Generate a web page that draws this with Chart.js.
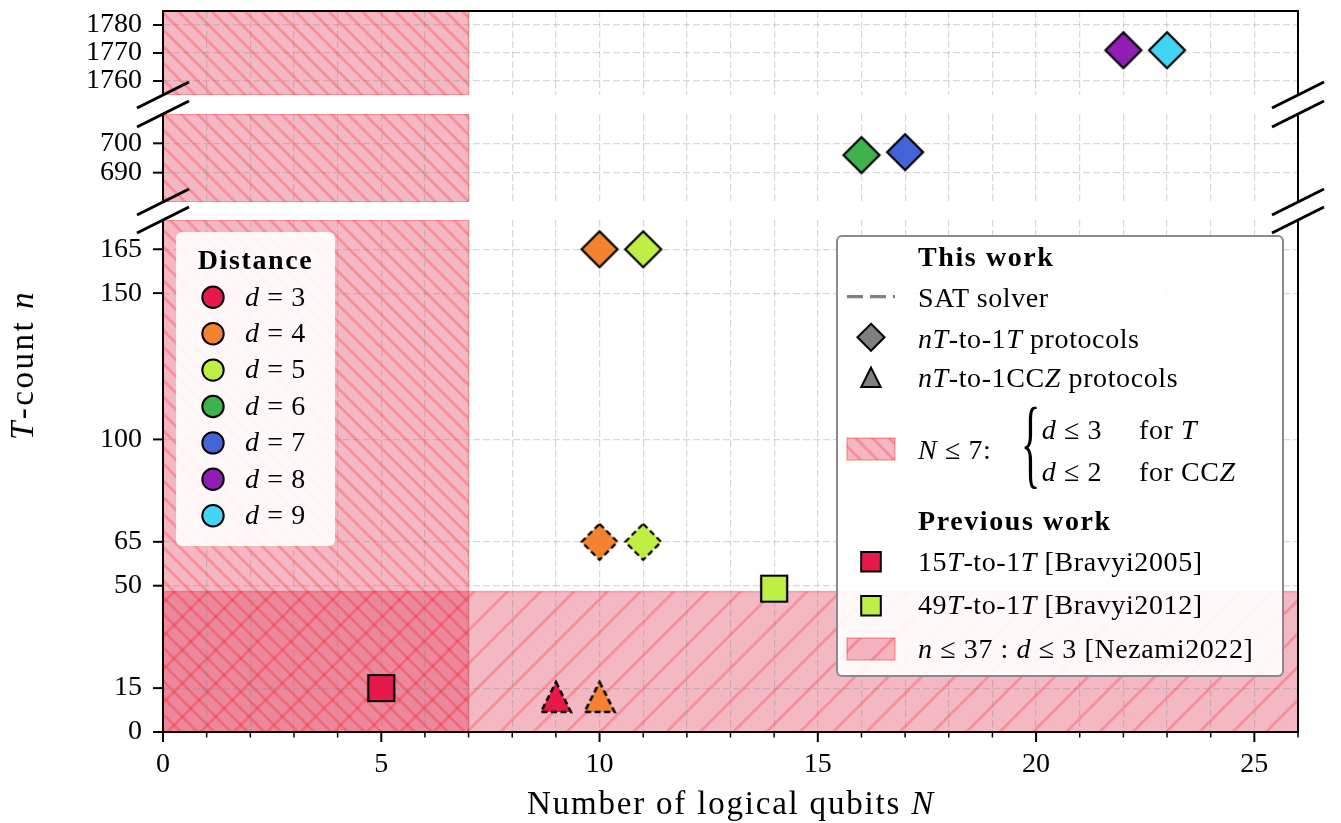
<!DOCTYPE html>
<html>
<head>
<meta charset="utf-8">
<script src="https://cdn.jsdelivr.net/npm/chart.js@4.4.1/dist/chart.umd.min.js"></script>
<style>
  html, body { margin: 0; padding: 0; background: #fff; }
  #wrap { position: relative; width: 1341px; height: 823px; overflow: hidden; font-family: 'Liberation Serif', serif; color: #000; }
  #wrap canvas { position: absolute; left: 0; top: 0; }
  .box { position: absolute; background: rgba(255,255,255,0.9); border-radius: 6px; }
  .t { position: absolute; font-size: 28px; line-height: 34px; white-space: nowrap; letter-spacing: 0.6px; }
  .b { font-weight: bold; letter-spacing: 1.6px; }
  .lab { position: absolute; font-size: 33px; line-height: 40px; white-space: nowrap; letter-spacing: 1.8px; }
  .brace { position: absolute; font-size: 100px; line-height: 100px; transform: scaleX(0.4); transform-origin: left top; }
</style>
</head>
<body>
<div id="wrap">
  <canvas id="cTop" width="1341" height="823"></canvas>
  <canvas id="cMid" width="1341" height="823"></canvas>
  <canvas id="cBot" width="1341" height="823"></canvas>

  <div class="box" style="left:176px;top:232px;width:159px;height:314px;"></div>
  <div class="box" style="left:836px;top:235px;width:444px;height:438px;border:2px solid #8a8a8a;"></div>
  <canvas id="cLeg" width="1341" height="823"></canvas>

  <div class="t b" style="left:176px;top:242.9px;width:159px;text-align:center;">Distance</div>
  <div id="distRows"></div>

  <div class="t b" style="left:918px;top:240.3px;">This work</div>
  <div class="t" style="left:918px;top:280.9px;">SAT solver</div>
  <div class="t" style="left:918px;top:321.9px;"><i>nT</i>-to-1<i>T</i> protocols</div>
  <div class="t" style="left:918px;top:360.9px;"><i>nT</i>-to-1CC<i>Z</i> protocols</div>
  <div class="t" style="left:918px;top:432.9px;"><i>N</i> ≤ 7:</div>
  <div class="brace" style="left:1021px;top:393px;">{</div>
  <div class="t" style="left:1041.7px;top:412.9px;"><i>d</i> ≤ 3</div>
  <div class="t" style="left:1139px;top:412.9px;">for <i>T</i></div>
  <div class="t" style="left:1041.7px;top:455.3px;"><i>d</i> ≤ 2</div>
  <div class="t" style="left:1139px;top:455.3px;">for CC<i>Z</i></div>
  <div class="t b" style="left:918px;top:503.6px;">Previous work</div>
  <div class="t" style="left:918px;top:545.3px;">15<i>T</i>-to-1<i>T</i> [Bravyi2005]</div>
  <div class="t" style="left:918px;top:587.6px;">49<i>T</i>-to-1<i>T</i> [Bravyi2012]</div>
  <div class="t" style="left:918px;top:631.9px;"><i>n</i> ≤ 37 : <i>d</i> ≤ 3 [Nezami2022]</div>

  <div class="lab" style="left:731px;top:782.8px;transform:translateX(-50%);">Number of logical qubits <i>N</i></div>
  <div class="lab" style="left:21.8px;top:365px;transform:translate(-50%,-50%) rotate(-90deg);letter-spacing:2.5px;"><i>T</i>-count <i>n</i></div>
</div>

<script>
// Distance colours
const distances = [3, 4, 5, 6, 7, 8, 9];
const distColors = ["#e6194B", "#f58231", "#bfef45", "#3cb44b", "#4363d8", "#911eb4", "#42d4f4"];

// This work: nT-to-1T protocols
const tProtoQubits = [10, 11, 16, 17, 22, 23];
const tProtoCount = [165, 165, 696, 697, 1771, 1771];
const tProtoDist = [4, 5, 6, 7, 8, 9];

// This work: SAT solver results
const satTQubits = [10, 11];
const satTCount = [65, 65];
const satTDist = [4, 5];
const satCczQubits = [9, 10];
const satCczCount = [12, 12];
const satCczDist = [3, 4];

// Previous work
const prevQubits = [5, 14];
const prevCount = [15, 49];
const prevDist = [3, 5];

// Shaded regions
const smallNMax = 7;         // N <= 7
const nezamiCountMax = 48;   // n <= 37 region as drawn

// Broken y axis panels (top, middle, bottom)
const panelRanges = [[1755, 1785], [680, 710], [0, 175]];
const panelTicks = [[1760, 1770, 1780], [690, 700], [0, 15, 50, 65, 100, 150, 165]];
const xRange = [0, 26];
const xTickValues = [0, 1, 2, 3, 4, 5, 6, 7, 8, 9, 10, 11, 12, 13, 14, 15, 16, 17, 18, 19, 20, 21, 22, 23, 24, 25, 26];

// layout
const W = 1341, H = 823;
const plotLeft = 163, plotRight = 1298;
const panelBoxes = [{ top: 7, bottom: 95 }, { top: 114, bottom: 202 }, { top: 220, bottom: 732 }];
const tickFont = { family: "'Liberation Serif'", size: 28 };
const fillColor = "rgba(220, 20, 60, 0.3)";
const hatchColor = "rgba(255, 0, 0, 0.22)";
const edgeColor = "rgba(255, 0, 0, 0.3)";

function colorOf(d) {
    return distColors[distances.indexOf(d)];
}

function drawMarker(ctx, shape, cx, cy, h, fill, dashed, lw) {
    ctx.save();
    ctx.beginPath();
    if (shape === "D") {
        ctx.moveTo(cx, cy - h);
        ctx.lineTo(cx + h, cy);
        ctx.lineTo(cx, cy + h);
        ctx.lineTo(cx - h, cy);
        ctx.closePath();
    } else if (shape === "s") {
        ctx.rect(cx - h, cy - h, 2 * h, 2 * h);
    } else if (shape === "^") {
        ctx.moveTo(cx, cy - h);
        ctx.lineTo(cx + h, cy + h);
        ctx.lineTo(cx - h, cy + h);
        ctx.closePath();
    } else {
        ctx.arc(cx, cy, h, 0, Math.PI * 2);
    }
    ctx.fillStyle = fill;
    ctx.fill();
    ctx.lineWidth = lw || 2.2;
    ctx.strokeStyle = "#000";
    ctx.lineJoin = "miter";
    ctx.setLineDash(dashed ? [6, 3.5] : []);
    ctx.stroke();
    ctx.restore();
}

function markerCanvas(shape, h, fill, dashed) {
    const size = Math.ceil(2 * (h + 6));
    const c = document.createElement("canvas");
    c.width = size;
    c.height = size;
    drawMarker(c.getContext("2d"), shape, size / 2, size / 2, h, fill, dashed, shape === "^" ? 2.5 : 2.2);
    return c;
}

function hatchRect(ctx, x0, y0, x1, y1, dir, spacing) {
    ctx.save();
    ctx.beginPath();
    ctx.rect(x0, y0, x1 - x0, y1 - y0);
    ctx.clip();
    ctx.strokeStyle = hatchColor;
    ctx.lineWidth = 2.8;
    ctx.beginPath();
    if (dir === "\\") {
        const cMin = Math.floor((y0 - x1) / spacing) * spacing;
        for (let c = cMin; c <= y1 - x0 + spacing; c += spacing) {
            ctx.moveTo(x0 - 4, x0 - 4 + c);
            ctx.lineTo(x1 + 4, x1 + 4 + c);
        }
    } else {
        const cMin = Math.floor((y0 + x0) / spacing) * spacing;
        for (let c = cMin; c <= y1 + x1 + spacing; c += spacing) {
            ctx.moveTo(x0 - 4, c - x0 + 4);
            ctx.lineTo(x1 + 4, c - x1 - 4);
        }
    }
    ctx.stroke();
    ctx.restore();
}

function region(ctx, x0, y0, x1, y1, dir, spacing) {
    ctx.fillStyle = fillColor;
    ctx.fillRect(x0, y0, x1 - x0, y1 - y0);
    hatchRect(ctx, x0, y0, x1, y1, dir, spacing);
    ctx.save();
    ctx.strokeStyle = edgeColor;
    ctx.lineWidth = 1.5;
    ctx.strokeRect(x0, y0, x1 - x0, y1 - y0);
    ctx.restore();
}

function breakMark(ctx, x, y) {
    ctx.beginPath();
    ctx.moveTo(x - 26, y + 13);
    ctx.lineTo(x + 26, y - 13);
    ctx.stroke();
}

// regions, ticks, spines and break marks of one panel
function panelPlugin(pi) {
    return {
        id: "panel" + pi,
        beforeDraw(chart) {
            const { ctx, chartArea: a, scales: { x, y } } = chart;
            ctx.save();
            ctx.beginPath();
            ctx.rect(a.left, a.top, a.right - a.left, a.bottom - a.top);
            ctx.clip();
            region(ctx, x.getPixelForValue(0), a.top, x.getPixelForValue(smallNMax), a.bottom, "\\", 16.7);
            if (y.min < nezamiCountMax) {
                region(ctx, a.left, y.getPixelForValue(nezamiCountMax), a.right + 2,
                       y.getPixelForValue(Math.max(0, y.min)) + 2, "/", 33.3);
            }
            ctx.restore();
        },
        afterDraw(chart) {
            const { ctx, chartArea: a, scales: { x, y } } = chart;
            ctx.save();
            ctx.strokeStyle = "#000";
            ctx.setLineDash([]);
            // y ticks
            ctx.lineWidth = 2;
            y.ticks.forEach(t => {
                const py = y.getPixelForValue(t.value);
                ctx.beginPath();
                ctx.moveTo(a.left - 10, py);
                ctx.lineTo(a.left, py);
                ctx.stroke();
            });
            // x ticks on bottom panel
            if (pi === 2) {
                x.ticks.forEach(t => {
                    const px = x.getPixelForValue(t.value);
                    const major = t.value % 5 === 0;
                    ctx.lineWidth = major ? 2 : 1.5;
                    ctx.beginPath();
                    ctx.moveTo(px, a.bottom);
                    ctx.lineTo(px, a.bottom + (major ? 10 : 5.5));
                    ctx.stroke();
                });
            }
            // spines
            ctx.lineWidth = 2;
            ctx.beginPath();
            ctx.moveTo(a.left, a.top); ctx.lineTo(a.left, a.bottom);
            ctx.moveTo(a.right, a.top); ctx.lineTo(a.right, a.bottom);
            if (pi === 0) { ctx.moveTo(a.left - 1, a.top); ctx.lineTo(a.right + 1, a.top); }
            if (pi === 2) { ctx.moveTo(a.left - 1, a.bottom); ctx.lineTo(a.right + 1, a.bottom); }
            ctx.stroke();
            // break marks
            ctx.lineWidth = 3;
            if (pi < 2) { breakMark(ctx, a.left, a.bottom); breakMark(ctx, a.right, a.bottom); }
            if (pi > 0) { breakMark(ctx, a.left, a.top); breakMark(ctx, a.right, a.top); }
            ctx.restore();
        }
    };
}

const markerSize = { D: 18, s: 13, "^": 15 };
const groups = [
    { qubits: prevQubits, count: prevCount, dist: prevDist, shape: "s", dashed: false },
    { qubits: satCczQubits, count: satCczCount, dist: satCczDist, shape: "^", dashed: true },
    { qubits: satTQubits, count: satTCount, dist: satTDist, shape: "D", dashed: true },
    { qubits: tProtoQubits, count: tProtoCount, dist: tProtoDist, shape: "D", dashed: false },
];

function buildPanel(id, pi) {
    const [yMin, yMax] = panelRanges[pi];
    const box = panelBoxes[pi];
    const isBottom = pi === 2;

    const datasets = groups.map(g => {
        const pts = [];
        const styles = [];
        g.qubits.forEach((q, i) => {
            if (g.count[i] >= yMin && g.count[i] <= yMax) {
                pts.push({ x: q, y: g.count[i] });
                styles.push(markerCanvas(g.shape, markerSize[g.shape], colorOf(g.dist[i]), g.dashed));
            }
        });
        return { data: pts, pointStyle: styles, pointRadius: 10, showLine: false };
    });

    const gridOpts = { color: "rgba(128,128,128,0.3)", lineWidth: 1.2, drawTicks: false };

    return new Chart(document.getElementById(id), {
        type: "scatter",
        data: { datasets },
        options: {
            responsive: false,
            animation: false,
            devicePixelRatio: 1,
            events: [],
            layout: {
                padding: { left: 0, right: W - plotRight, top: box.top, bottom: isBottom ? 0 : H - box.bottom },
            },
            plugins: { legend: { display: false }, tooltip: { enabled: false } },
            scales: {
                x: {
                    type: "linear",
                    min: xRange[0],
                    max: xRange[1],
                    afterBuildTicks: s => { s.ticks = xTickValues.map(v => ({ value: v })); },
                    afterFit: s => {
                        s.height = isBottom ? H - box.bottom : 0;
                        s.paddingLeft = 0;
                        s.paddingRight = 0;
                    },
                    ticks: {
                        display: isBottom,
                        autoSkip: false,
                        maxRotation: 0,
                        padding: 16,
                        font: tickFont,
                        color: "#000",
                        callback: v => (v % 5 === 0 ? String(v) : ""),
                    },
                    grid: gridOpts,
                    border: { display: false, dash: [7, 3] },
                },
                y: {
                    type: "linear",
                    min: yMin,
                    max: yMax,
                    afterBuildTicks: s => { s.ticks = panelTicks[pi].map(v => ({ value: v })); },
                    afterFit: s => {
                        s.width = plotLeft;
                        s.paddingTop = 0;
                        s.paddingBottom = 0;
                    },
                    ticks: {
                        autoSkip: false,
                        padding: 21,
                        font: tickFont,
                        color: "#000",
                        callback: v => String(v),
                    },
                    grid: gridOpts,
                    border: { display: false, dash: [7, 3] },
                },
            },
        },
        plugins: [panelPlugin(pi)],
    });
}

function drawLegends() {
    const ctx = document.getElementById("cLeg").getContext("2d");
    const rows = document.getElementById("distRows");
    distances.forEach((d, i) => {
        drawMarker(ctx, "o", 213, 297.3 + i * 36.4, 10.7, distColors[i], false, 2);
        const div = document.createElement("div");
        div.className = "t";
        div.style.left = "245px";
        div.style.top = (279.6 + i * 36.4) + "px";
        div.innerHTML = "<i>d</i> = " + d;
        rows.appendChild(div);
    });

    // SAT solver dashed line
    ctx.save();
    ctx.strokeStyle = "#808080";
    ctx.lineWidth = 3.3;
    ctx.setLineDash([16, 7]);
    ctx.beginPath();
    ctx.moveTo(847, 296.7);
    ctx.lineTo(895, 296.7);
    ctx.stroke();
    ctx.restore();

    drawMarker(ctx, "D", 871, 337.3, 13.5, "#808080", false, 2);
    drawMarker(ctx, "^", 871, 377.3, 9.7, "#808080", false, 2);
    region(ctx, 847, 438, 895, 460, "\\", 16.7);
    drawMarker(ctx, "s", 871, 561.7, 9.8, colorOf(prevDist[0]), false, 2);
    drawMarker(ctx, "s", 871, 605.7, 9.8, colorOf(prevDist[1]), false, 2);
    region(ctx, 847, 638, 895, 660, "/", 33.3);
}

buildPanel("cTop", 0);
buildPanel("cMid", 1);
buildPanel("cBot", 2);
drawLegends();
</script>
</body>
</html>
